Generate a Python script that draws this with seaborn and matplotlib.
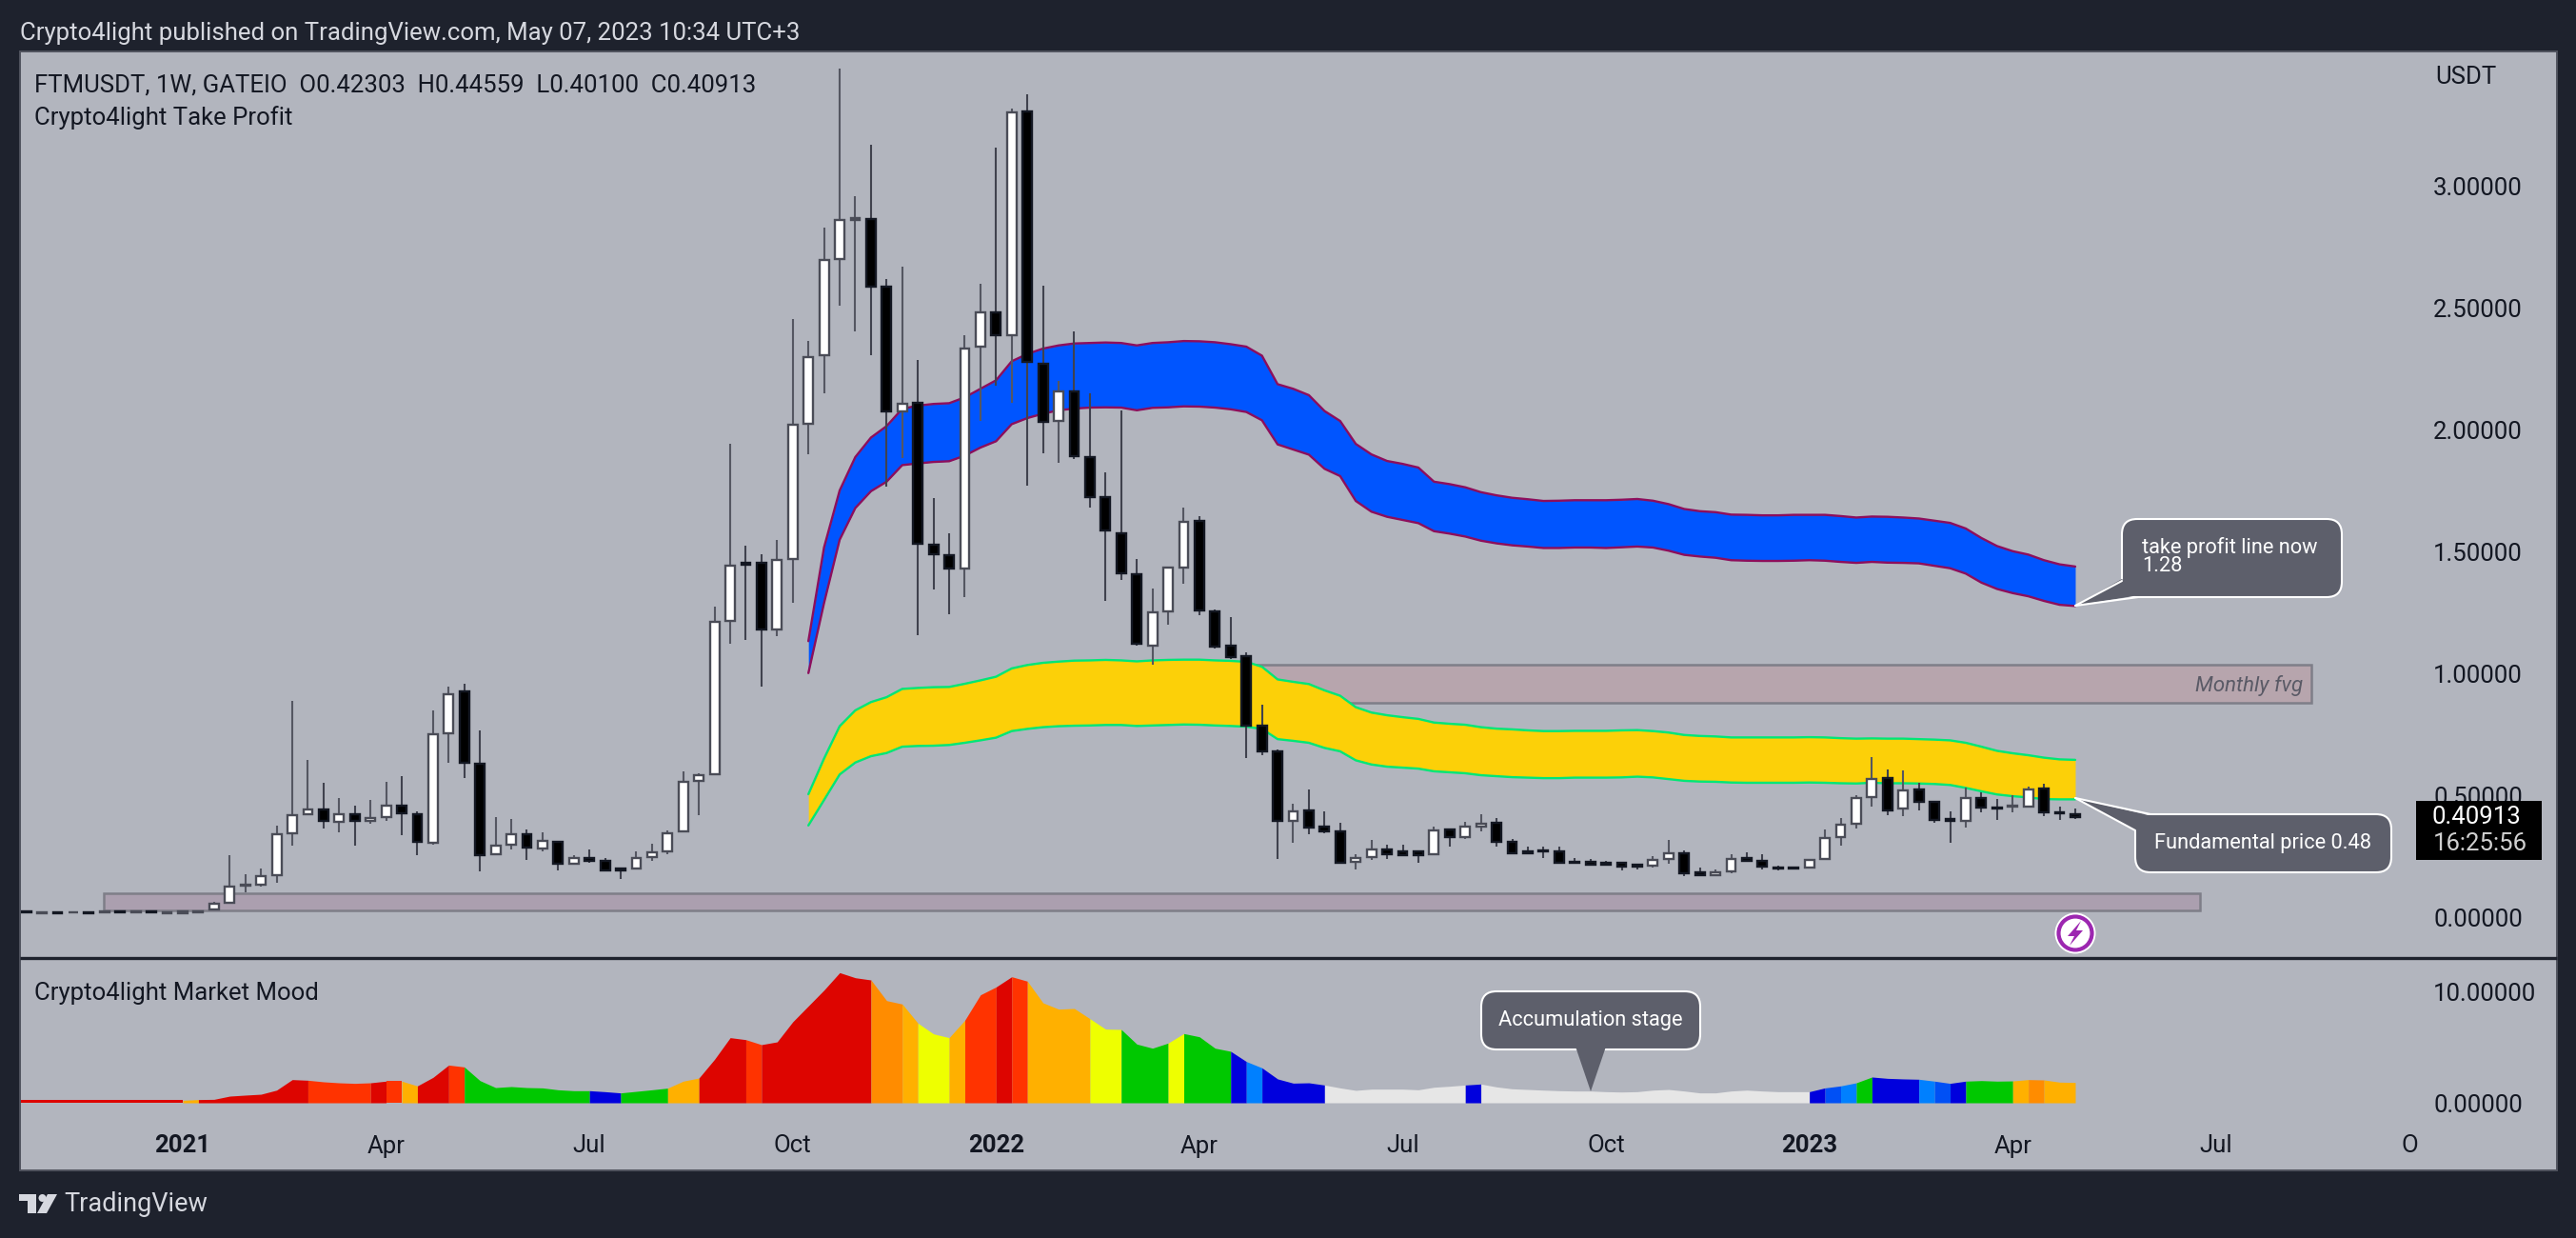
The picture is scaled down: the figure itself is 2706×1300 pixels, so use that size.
import numpy as np
import pandas as pd
import matplotlib
matplotlib.use("Agg")
import matplotlib.pyplot as plt
from matplotlib.patches import FancyBboxPatch, Polygon, Circle, Rectangle
import seaborn as sns

W, H = 2706, 1300
BG = "#1E222D"
PANEL = "#B2B5BE"
FONT = "Roboto"

lead_up = [0, 1, 0, 1, 0, 1, 0, 1, 0, 1, 1, 1]
lead_top = [.023, .020, .020, .021, .020, .022, .023, .023, .022, .021, .022, .024]
lead_bottom = [.021, .016, .016, .018, .017, .019, .020, .021, .020, .016, .017, .021]
lead_high = [.025, .022, .022, .023, .022, .024, .025, .025, .024, .023, .024, .026]
lead_low = [.019, .014, .014, .016, .015, .017, .018, .019, .018, .014, .015, .019]

candle_high = lead_high + [
    .064, .253, .174, .198, .376, .887, .643, .551, .487, .457,
    .480, .553, .578, .432, .848, .945, .956, .764, .409, .402,
    .358, .348, .311, .253, .276, .241, .201, .268, .301, .354,
    .598, .589, 1.272, 1.941, 1.522, 1.487, 1.546, 2.453, 2.362, 2.827,
    3.479, 2.957, 3.167, 2.616, 2.668, 2.284, 1.717, 1.574, 2.386, 2.596,
    3.155, 3.315, 3.374, 2.590, 2.199, 2.401, 2.147, 1.824, 2.078, 1.467,
    1.346, 1.438, 1.678, 1.643, 1.260, 1.229, 1.085, .871, .689, .464,
    .522, .432, .385, .259, .318, .296, .296, .272, .370, .359,
    .389, .421, .405, .320, .289, .289, .288, .241, .237, .229,
    .224, .219, .250, .315, .272, .202, .194, .259, .264, .257,
    .210, .206, .237, .358, .405, .499, .655, .604, .600, .552,
    .474, .432, .533, .513, .483, .500, .535, .546, .454, .44559]
body_top = lead_top + [
    .055, .126, .132, .168, .340, .418, .441, .443, .422, .423,
    .408, .457, .458, .423, .751, .915, .927, .630, .294, .341,
    .341, .311, .307, .242, .243, .232, .198, .242, .266, .344,
    .555, .582, 1.211, 1.441, 1.454, 1.454, 1.465, 2.021, 2.298, 2.697,
    2.859, 2.866, 2.862, 2.587, 2.106, 2.111, 1.529, 1.486, 2.333, 2.482,
    2.479, 3.302, 3.306, 2.271, 2.156, 2.158, 1.887, 1.724, 1.574, 1.408,
    1.250, 1.434, 1.621, 1.626, 1.253, 1.112, 1.072, .784, .678, .435,
    .436, .370, .350, .243, .279, .279, .268, .268, .357, .358,
    .372, .384, .388, .307, .271, .275, .271, .228, .225, .221,
    .221, .214, .234, .262, .263, .182, .184, .238, .241, .232,
    .204, .203, .234, .324, .379, .488, .566, .569, .521, .522,
    .474, .401, .490, .490, .451, .456, .525, .526, .428, .42303]
body_bottom = lead_bottom + [
    .033, .057, .128, .132, .172, .342, .421, .393, .391, .393,
    .393, .409, .424, .307, .305, .754, .632, .253, .257, .296,
    .284, .281, .217, .219, .232, .190, .190, .198, .246, .268,
    .352, .559, .586, 1.215, 1.445, 1.178, 1.178, 1.467, 2.022, 2.305,
    2.701, 2.861, 2.585, 2.073, 2.074, 1.531, 1.487, 1.428, 1.428, 2.340,
    2.388, 2.386, 2.277, 2.030, 2.035, 1.889, 1.721, 1.585, 1.409, 1.120,
    1.113, 1.253, 1.434, 1.257, 1.111, 1.066, .786, .678, .393, .393,
    .368, .353, .224, .225, .246, .257, .255, .255, .257, .329,
    .327, .370, .307, .263, .263, .268, .224, .221, .216, .216,
    .208, .206, .210, .237, .181, .171, .171, .186, .232, .206,
    .201, .198, .202, .237, .328, .383, .491, .439, .444, .474,
    .400, .393, .393, .448, .447, .452, .454, .428, .424, .40913]
candle_low = lead_low + [
    .030, .057, .100, .126, .142, .294, .421, .363, .348, .294,
    .383, .395, .337, .255, .298, .633, .572, .188, .257, .279,
    .236, .270, .191, .216, .223, .188, .158, .198, .230, .259,
    .350, .419, .585, 1.122, 1.137, .947, 1.154, 1.290, 1.900, 2.147,
    2.509, 2.404, 2.303, 1.767, 1.884, 1.158, 1.345, 1.243, 1.314, 2.036,
    2.180, 2.111, 1.770, 1.904, 1.865, 1.880, 1.678, 1.298, 1.384, 1.115,
    1.036, 1.201, 1.368, 1.240, 1.103, 1.060, .654, .665, .240, .305,
    .340, .344, .224, .197, .236, .240, .255, .224, .255, .290,
    .322, .353, .290, .263, .263, .243, .220, .217, .216, .215,
    .191, .197, .204, .220, .169, .171, .171, .181, .227, .197,
    .193, .197, .202, .237, .293, .365, .454, .418, .415, .439,
    .387, .305, .367, .431, .398, .428, .451, .415, .400, .40100]
candle_up = lead_up + [
    1, 1, 1, 1, 1, 1, 1, 0, 1, 0, 1, 1, 0, 0, 1, 1, 0, 0, 1, 1,
    0, 1, 0, 1, 0, 0, 0, 1, 1, 1, 1, 1, 1, 1, 0, 0, 1, 1, 1, 1,
    1, 1, 0, 0, 1, 0, 0, 0, 1, 1, 0, 1, 0, 0, 1, 0, 0, 0, 0, 0,
    1, 1, 1, 0, 0, 0, 0, 0, 0, 1, 0, 0, 0, 1, 1, 0, 0, 0, 1, 0,
    1, 1, 0, 0, 0, 0, 0, 0, 0, 0, 0, 0, 1, 1, 0, 0, 1, 1, 0, 0,
    0, 0, 1, 1, 1, 1, 1, 0, 1, 0, 0, 0, 1, 0, 0, 1, 1, 0, 0, 0]

# Take-profit band, from the week at index 50 to the last
blue_upper = [
    1.132, 1.516, 1.750, 1.887, 1.967, 2.014, 2.085, 2.098, 2.105, 2.108,
    2.132, 2.167, 2.202, 2.280, 2.310, 2.332, 2.345, 2.353, 2.355, 2.357,
    2.355, 2.345, 2.355, 2.358, 2.363, 2.362, 2.358, 2.350, 2.340, 2.303,
    2.186, 2.167, 2.141, 2.076, 2.035, 1.941, 1.898, 1.871, 1.859, 1.844,
    1.786, 1.776, 1.763, 1.743, 1.730, 1.720, 1.714, 1.707, 1.708, 1.710,
    1.710, 1.710, 1.712, 1.715, 1.708, 1.694, 1.674, 1.665, 1.661, 1.651,
    1.650, 1.648, 1.648, 1.650, 1.650, 1.650, 1.645, 1.639, 1.643, 1.642,
    1.639, 1.635, 1.626, 1.617, 1.594, 1.555, 1.522, 1.501, 1.487, 1.464,
    1.447, 1.438]
blue_lower = [
    1.001, 1.288, 1.548, 1.678, 1.747, 1.786, 1.854, 1.861, 1.867, 1.870,
    1.893, 1.926, 1.952, 2.022, 2.047, 2.065, 2.079, 2.086, 2.090, 2.091,
    2.090, 2.079, 2.089, 2.091, 2.095, 2.094, 2.090, 2.083, 2.072, 2.038,
    1.939, 1.918, 1.897, 1.839, 1.809, 1.707, 1.663, 1.642, 1.629, 1.616,
    1.583, 1.573, 1.561, 1.544, 1.533, 1.525, 1.520, 1.514, 1.514, 1.516,
    1.516, 1.514, 1.517, 1.520, 1.516, 1.503, 1.486, 1.479, 1.474, 1.464,
    1.462, 1.461, 1.461, 1.462, 1.464, 1.462, 1.457, 1.453, 1.457, 1.454,
    1.453, 1.451, 1.441, 1.431, 1.409, 1.372, 1.346, 1.329, 1.316, 1.297,
    1.281, 1.276]
yellow_upper = [
    .504, .650, .783, .848, .882, .902, .936, .940, .943, .944,
    .957, .971, .986, 1.020, 1.034, 1.043, 1.048, 1.052, 1.053, 1.055,
    1.053, 1.049, 1.053, 1.055, 1.056, 1.056, 1.053, 1.051, 1.047, 1.027,
    .975, .965, .956, .930, .908, .861, .839, .828, .820, .813,
    .798, .793, .789, .779, .773, .770, .766, .763, .763, .764,
    .764, .764, .766, .767, .763, .757, .747, .743, .741, .737,
    .737, .737, .737, .737, .738, .737, .734, .732, .733, .732,
    .732, .730, .728, .725, .715, .699, .682, .672, .664, .654,
    .647, .645]
yellow_lower = [
    .376, .480, .585, .634, .660, .673, .699, .702, .703, .706,
    .715, .725, .736, .763, .772, .779, .783, .785, .786, .788,
    .788, .784, .786, .788, .790, .789, .786, .784, .781, .772,
    .730, .723, .715, .694, .680, .643, .626, .617, .613, .609,
    .598, .594, .590, .582, .578, .574, .572, .570, .570, .572,
    .572, .572, .573, .576, .573, .566, .559, .556, .555, .552,
    .551, .551, .551, .551, .552, .551, .549, .548, .551, .549,
    .549, .548, .546, .542, .530, .516, .503, .496, .491, .484,
    .483, .483]

# Market mood values, one per week; the first is the week cut by the left edge
mood = [
    .22, .22, .22, .22, .22, .22, .22, .22, .22, .22, .22,
    .22, .29, .31, .60, .69, .77, 1.14, 2.09, 2.03, 1.89,
    1.80, 1.75, 1.80, 1.95, 1.95, 1.52, 2.29, 3.40, 3.23, 2.00,
    1.37, 1.46, 1.37, 1.34, 1.17, 1.09, 1.09, 1.00, .89, 1.03,
    1.17, 1.32, 1.95, 2.23, 3.92, 5.87, 5.69, 5.24, 5.49, 7.30,
    8.73, 10.16, 11.73, 11.27, 11.07, 9.21, 8.90, 7.18, 6.21, 5.87,
    7.44, 9.73, 10.44, 11.36, 10.96, 9.01, 8.44, 8.50, 7.58, 6.64,
    6.61, 5.29, 4.92, 5.38, 6.24, 5.95, 4.92, 4.64, 3.72, 3.15,
    2.15, 1.77, 1.80, 1.60, 1.34, 1.12, 1.23, 1.23, 1.23, 1.17,
    1.40, 1.49, 1.60, 1.69, 1.43, 1.26, 1.20, 1.14, 1.09, 1.06,
    1.06, 1.00, .97, 1.00, 1.14, 1.20, 1.06, .89, .89, 1.06,
    1.14, 1.06, 1.00, 1.00, 1.00, 1.34, 1.52, 1.80, 2.32, 2.20,
    2.15, 2.12, 1.95, 1.75, 1.95, 2.00, 1.95, 1.97, 2.09, 2.06,
    1.86, 1.83]
mood_run_colors = [
    "red", "amber", "red", "redorange", "red", "redorange", "amber", "red", "redorange",
    "green", "blue", "green", "amber", "red", "redorange", "red", "orange", "amber",
    "yellow", "amber", "redorange", "red", "redorange", "amber", "yellow", "green",
    "yellow", "green", "blue", "sky", "blue", "grey", "blue", "grey", "blue", "mid",
    "sky", "green", "blue", "sky", "mid", "blue", "green", "amber", "orange", "amber"]
mood_run_lengths = [
    11, 1, 7, 4, 1, 1, 1, 2, 1,
    8, 2, 3, 2, 3, 1, 7, 2, 1,
    2, 1, 2, 1, 1, 4, 2, 3,
    1, 3, 1, 1, 4, 9, 1, 21, 1, 1,
    1, 1, 3, 1, 1, 1, 3, 1, 1, 2]
mood_palette = {"red": "#DD0500", "amber": "#FFB000", "redorange": "#FF3300", "green": "#00C800",
                "blue": "#0000DD", "orange": "#FF8C00", "yellow": "#EEFF00", "sky": "#0080FF",
                "mid": "#0050F5", "grey": "#E6E6E6"}

time_ticks = [10, 23, 36, 49, 62, 75, 88, 101, 114, 127, 140, 152.4]
time_labels = ["2021", "Apr", "Jul", "Oct", "2022", "Apr", "Jul", "Oct", "2023", "Apr", "Jul", "O"]
price_ticks = [0, .5, 1, 1.5, 2, 2.5, 3]
mood_ticks = [0, 10]

sns.set_theme(style="white")
plt.rcParams["font.family"] = [FONT, "DejaVu Sans"]

fig = plt.figure(figsize=(W / 100, H / 100), dpi=100, facecolor=BG)


def axes_px(x0, y0, x1, y1, **kw):
    return fig.add_axes([x0 / W, 1 - y1 / H, (x1 - x0) / W, (y1 - y0) / H], **kw)


ax = axes_px(21, 54, 2686, 1005, facecolor=PANEL)
ax2 = axes_px(21, 1005, 2686, 1229, facecolor=PANEL)

XLIM = (-0.408, 161.8)
for a in (ax, ax2):
    a.set_xlim(*XLIM)
    a.grid(False)
    for s in a.spines.values():
        s.set_visible(False)
ax.set_ylim(-0.164, 3.551)
ax2.set_ylim(-6.094, 13.133)

# Zones
ax.add_patch(Rectangle((70.0, .879), 76.1, .156, fc="#B7A5AD", ec="#7E7E88", lw=1.8, zorder=1))
ax.add_patch(Rectangle((4.95, .029), 134.05, .069, fc="#AB9FAF", ec="#7E7E88", lw=1.8, zorder=1))

# Bands
band = pd.DataFrame({"week": np.arange(50, 132), "blue_upper": blue_upper, "blue_lower": blue_lower,
                     "yellow_upper": yellow_upper, "yellow_lower": yellow_lower})
ax.fill_between(band.week, band.blue_lower, band.blue_upper, color="#0055FF", lw=0, zorder=2)
ax.fill_between(band.week, band.yellow_lower, band.yellow_upper, color="#FCD008", lw=0, zorder=2)
for col, c in (("blue_upper", "#8D0E5C"), ("blue_lower", "#8D0E5C"),
               ("yellow_upper", "#00E676"), ("yellow_lower", "#00E676")):
    sns.lineplot(data=band, x="week", y=col, ax=ax, color=c, lw=1.7, estimator=None, sort=False, zorder=2.5)

# Candles
weeks = np.arange(len(candle_high))
up = np.array(candle_up, dtype=bool)
top = np.array(body_top)
bot = np.array(body_bottom)
ax.vlines(weeks[up], np.array(candle_low)[up], np.array(candle_high)[up], color="#555762", lw=1.5, zorder=3)
ax.vlines(weeks[~up], np.array(candle_low)[~up], np.array(candle_high)[~up], color="#40424E", lw=1.5, zorder=3)
ax.bar(weeks[up], (top - bot)[up], bottom=bot[up], width=0.6, color="#FFFFFF", edgecolor="#4A4C57", lw=1.7, zorder=4)
ax.bar(weeks[~up], (top - bot)[~up], bottom=bot[~up], width=0.6, color="#000000", edgecolor="#131722", lw=1.7, zorder=4)

# Mood
mood_x = np.arange(len(mood)) - 1
start = 0
for name, n in zip(mood_run_colors, mood_run_lengths):
    ax2.fill_between(mood_x[start:start + n + 1], mood[start:start + n + 1], 0,
                     color=mood_palette[name], lw=0)
    start += n

# Ticks
PAD = (2556 - 2686) * 0.72
FS = 18.5
for a, t in ((ax, price_ticks), (ax2, mood_ticks)):
    a.yaxis.tick_right()
    a.set_yticks(t)
    a.set_yticklabels([f"{v:.5f}" for v in t])
    a.tick_params(axis="y", length=0, pad=PAD, labelsize=FS, labelcolor="#131722")
    a.set_xlabel("")
    a.set_ylabel("")
ax.set_xticks([])
ax2.set_xticks(time_ticks)
ax2.set_xticklabels(time_labels)
ax2.tick_params(axis="x", length=0, pad=-27, labelsize=FS, labelcolor="#131722")
for lab in ax2.get_xticklabels():
    if lab.get_text().startswith("20"):
        lab.set_fontweight("bold")

# Overlay in picture pixels, for the page furniture and callouts
ov = fig.add_axes([0, 0, 1, 1], facecolor="none", zorder=10)
ov.set_xlim(0, W)
ov.set_ylim(H, 0)
ov.axis("off")

ov.add_patch(Rectangle((21, 54), 2665, 1175, fc="none", ec="#50535E", lw=1.4))
ov.plot([21, 2686], [1005.5, 1005.5], color=BG, lw=2.4, solid_capstyle="butt")


def label(x, y, s, **kw):
    kw.setdefault("va", "center")
    kw.setdefault("color", "#131722")
    kw.setdefault("fontsize", FS)
    return ov.text(x, y, s, **kw)


label(21, 35, "Crypto4light published on TradingView.com, May 07, 2023 10:34 UTC+3", color="#D6D8DF")
label(36, 90, "FTMUSDT, 1W, GATEIO  O0.42303  H0.44559  L0.40100  C0.40913")
label(36, 124, "Crypto4light Take Profit")
label(36, 1043, "Crypto4light Market Mood")
label(2558, 81, "USDT")
label(67, 1265, "TradingView", color="#D6D8DF", fontsize=19.5)
label(2419, 720, "Monthly fvg", ha="right", style="italic", color="#5A5A66", fontsize=16)

# Last-price tag
ov.add_patch(Rectangle((2538, 841), 132, 62, fc="#000000", ec="none"))
label(2555, 858, "0.40913", color="#FFFFFF")
label(2556, 886, "16:25:56", color="#D0D0D0")


def callout(box, poly, ends, text_items):
    x0, y0, x1, y1 = box
    r = 16
    ov.add_patch(FancyBboxPatch((x0 + r, y0 + r), x1 - x0 - 2 * r, y1 - y0 - 2 * r,
                                boxstyle=f"round,pad={r},rounding_size={r}",
                                fc="#5D5F6B", ec="#FFFFFF", lw=1.5, zorder=2))
    ov.add_patch(Polygon(poly, closed=True, fc="#5D5F6B", ec="none", zorder=3))
    for (xa, ya), (xb, yb) in ends:
        ov.plot([xa, xb], [ya, yb], color="#FFFFFF", lw=1.5, zorder=4)
    for x, y, s, kw in text_items:
        label(x, y, s, color="#FFFFFF", fontsize=15.7, zorder=5, **kw)


callout((2229, 545, 2460, 627),
        [(2229, 608), (2180, 636), (2247, 625)],
        [((2229, 610), (2180, 636)), ((2180, 636), (2246, 627))],
        [(2250, 575, "take profit line now", {}), (2250, 595, "1.28", {})])
callout((2243, 855, 2512, 916),
        [(2261, 857), (2180, 838), (2245, 873)],
        [((2259, 855), (2180, 838)), ((2180, 838), (2243, 872))],
        [(2263, 885, "Fundamental price 0.48", {})])
callout((1556, 1041, 1786, 1102),
        [(1655, 1099), (1671, 1146), (1687, 1099)],
        [],
        [(1671, 1071, "Accumulation stage", {"ha": "center"})])

# Lightning badge
ov.add_patch(Circle((2180, 980), 21.5, fc="#FFFFFF", ec="none", zorder=5))
ov.add_patch(Circle((2180, 980), 17.5, fc="#FFFFFF", ec="#9C27B0", lw=3, zorder=6))
ov.add_patch(Polygon([(2186, 967), (2172, 983), (2179, 983), (2174, 993), (2188, 977), (2181, 977)],
                     closed=True, fc="#9C27B0", ec="none", zorder=7))

# TradingView mark
ov.add_patch(Polygon([(20, 1254), (38, 1254), (38, 1274), (29, 1274), (29, 1261), (20, 1261)],
                     closed=True, fc="#D6D8DF", ec="none"))
ov.add_patch(Circle((44.5, 1258), 4, fc="#D6D8DF", ec="none"))
ov.add_patch(Polygon([(50, 1254), (60, 1254), (49, 1274), (39, 1274)], closed=True, fc="#D6D8DF", ec="none"))

fig.savefig("out.png", dpi=100, facecolor=BG)
